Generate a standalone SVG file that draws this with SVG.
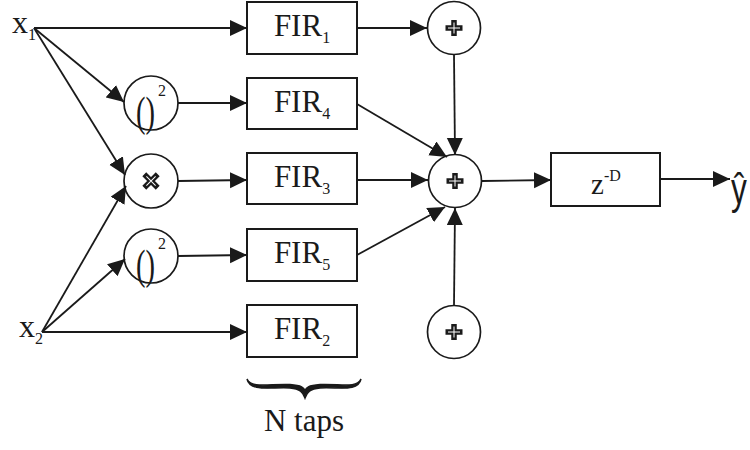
<svg xmlns="http://www.w3.org/2000/svg" xmlns:xlink="http://www.w3.org/1999/xlink" width="750" height="450" viewBox="0 0 750 450">
<style>
.box{fill:#fff;stroke:#1a1a1a;stroke-width:2}
.circ{fill:#fff;stroke:#1a1a1a;stroke-width:1.7}
.ln{fill:none;stroke:#1a1a1a;stroke-width:1.8;marker-end:url(#ah)}
text{fill:#1a1a1a;font-family:'Liberation Serif','Times New Roman',Times,serif}
.sans{font-family:'Liberation Sans',Arial,sans-serif}
</style>
<defs>
<marker id="ah" markerUnits="userSpaceOnUse" markerWidth="18" markerHeight="17" refX="17" refY="8" orient="auto">
<path d="M0,0 L17,8 L0,16 z" fill="#1a1a1a"/>
</marker>
<g id="plus">
<path d="M-8.5,0 H8.5 M0,-8 V8" stroke="#1a1a1a" stroke-width="5.5"/>
<path d="M-6,0 H6 M0,-5.5 V5.5" stroke="#fff" stroke-width="1"/>
</g>
<g id="mul">
<g transform="rotate(45)">
<path d="M-9.5,0 H9.5 M0,-9.5 V9.5" stroke="#1a1a1a" stroke-width="5.5"/>
<path d="M-6.5,0 H6.5 M0,-6.5 V6.5" stroke="#fff" stroke-width="1"/>
</g>
</g>
</defs>

<g id="x1"><text x="12" y="33" font-size="32">x<tspan font-size="16" dy="7">1</tspan></text></g>
<g id="x2"><text x="19" y="337" font-size="32">x<tspan font-size="16" dy="7">2</tspan></text></g>

<g id="sq1"><circle class="circ" cx="151" cy="103" r="27"/><text font-size="42" transform="translate(136,126) scale(0.68,1)">()</text><text x="158" y="96" font-size="16">2</text></g>
<g id="mult"><circle class="circ" cx="151" cy="181" r="27"/><use xlink:href="#mul" x="151" y="181"/></g>
<g id="sq2"><circle class="circ" cx="151" cy="256" r="27"/><text font-size="42" transform="translate(136,279) scale(0.68,1)">()</text><text x="158" y="249" font-size="16">2</text></g>

<g id="fir1"><rect class="box" x="247" y="2" width="110" height="52"/><text x="302" y="36" font-size="31" text-anchor="middle">FIR<tspan font-size="16" dy="7">1</tspan></text></g>
<g id="fir4"><rect class="box" x="247" y="78" width="110" height="51"/><text x="302" y="112" font-size="31" text-anchor="middle">FIR<tspan font-size="16" dy="7">4</tspan></text></g>
<g id="fir3"><rect class="box" x="247" y="153" width="110" height="51"/><text x="302" y="187" font-size="31" text-anchor="middle">FIR<tspan font-size="16" dy="7">3</tspan></text></g>
<g id="fir5"><rect class="box" x="247" y="229" width="110" height="52"/><text x="302" y="263" font-size="31" text-anchor="middle">FIR<tspan font-size="16" dy="7">5</tspan></text></g>
<g id="fir2"><rect class="box" x="247" y="305" width="110" height="52"/><text x="302" y="339" font-size="31" text-anchor="middle">FIR<tspan font-size="16" dy="7">2</tspan></text></g>

<g id="sumTop"><circle class="circ" cx="454" cy="28" r="26.5"/><use xlink:href="#plus" x="454" y="28"/></g>
<g id="sumMid"><circle class="circ" cx="455" cy="181" r="26.5"/><use xlink:href="#plus" x="455" y="181"/></g>
<g id="sumBot"><circle class="circ" cx="454" cy="332" r="26.5"/><use xlink:href="#plus" x="454" y="332"/></g>

<g id="delay"><rect class="box" x="551" y="153" width="109" height="53"/><text x="591" y="194" font-size="29">z<tspan font-size="16" dy="-13">-D</tspan></text></g>

<g id="yhat"><text class="sans" font-size="44" transform="translate(731,204) scale(0.72,1)">ŷ</text></g>

<g id="taps">
<path d="M247,379 C250,392 270,387 290,388 C300,389 303,392 305,398 C307,392 310,389 320,388 C340,387 358,392 361,379 C356,389 340,383.5 320,384.5 C308,385.5 306,387.5 305,391 C304,387.5 302,385.5 290,384.5 C270,383.5 252,389 247,379 z" fill="#1a1a1a" stroke="#1a1a1a" stroke-width="1.5"/>
<text x="304" y="431" font-size="31" text-anchor="middle">N taps</text>
</g>

<g id="connectors">
<path class="ln" d="M34,28 L247,28"/>
<path class="ln" d="M34,28 L124,102"/>
<path class="ln" d="M34,28 L125,175"/>
<path class="ln" d="M42,332 L126,186"/>
<path class="ln" d="M42,332 L125,259"/>
<path class="ln" d="M42,332 L247,332"/>
<path class="ln" d="M178,103 L247,103"/>
<path class="ln" d="M178,181 L247,180"/>
<path class="ln" d="M178,256 L247,255"/>
<path class="ln" d="M357,28 L427,28"/>
<path class="ln" d="M454,55 L455,155"/>
<path class="ln" d="M357,104 L447,157"/>
<path class="ln" d="M357,180 L428,180"/>
<path class="ln" d="M357,255 L445,207"/>
<path class="ln" d="M454,305 L455,208"/>
<path class="ln" d="M482,181 L551,180"/>
<path class="ln" d="M660,179 L730,179"/>
</g>
</svg>
